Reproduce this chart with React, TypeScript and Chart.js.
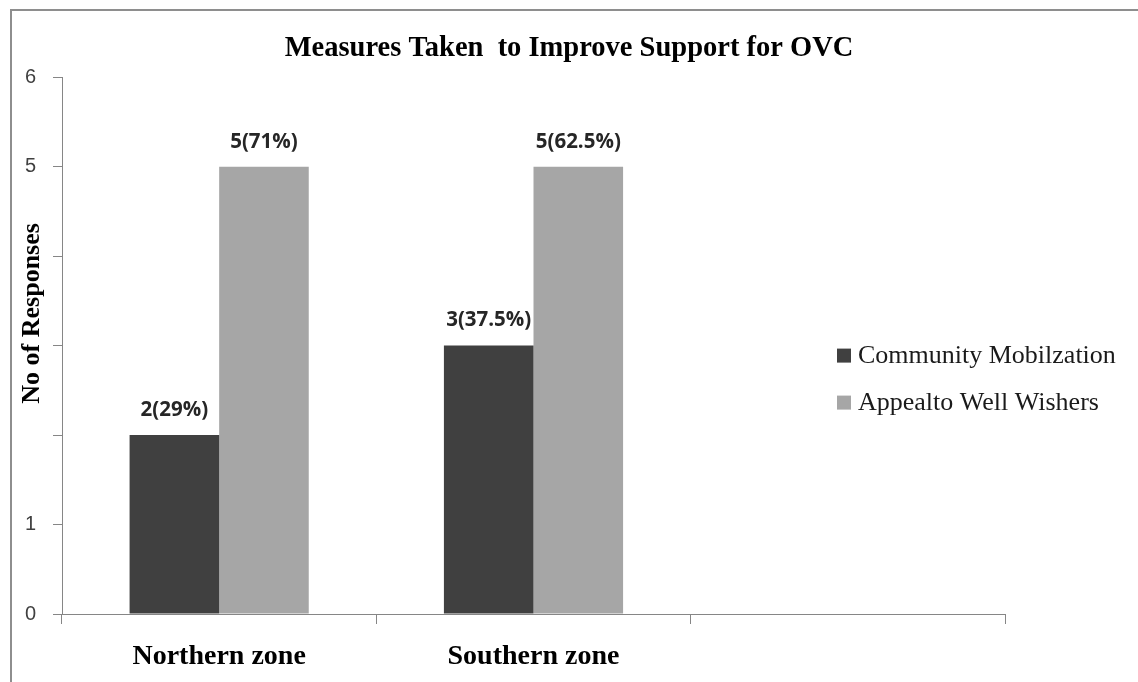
import React, { useEffect, useRef } from "react";
import { Chart, registerables } from "chart.js";

Chart.register(...registerables);

const chartTitle = "Measures Taken  to Improve Support for OVC";
const yAxisTitle = "No of Responses";
const categories = ["Northern zone", "Southern zone", ""];
const seriesNames = ["Community Mobilzation", "Appealto Well Wishers"];
const communityMobilization = [2, 3, null];
const appealWellWishers = [5, 5, null];
const communityLabels = ["2(29%)", "3(37.5%)", ""];
const appealLabels = ["5(71%)", "5(62.5%)", ""];
const yTickLabels = ["0", "1", "", "", "", "5", "6"];
const seriesColors = ["#404040", "#a6a6a6"];

const AXIS_COLOR = "#868686";

const decorPlugin = {
  id: "decor",
  afterDatasetsDraw(chart: any) {
    const ctx = chart.ctx;
    const labelSets = [communityLabels, appealLabels];
    ctx.save();
    ctx.font = "bold 20.5px 'Open Sans'";
    ctx.fillStyle = "#262626";
    ctx.textAlign = "center";
    ctx.textBaseline = "middle";
    chart.data.datasets.forEach((ds: any, di: number) => {
      const meta = chart.getDatasetMeta(di);
      meta.data.forEach((bar: any, i: number) => {
        const txt = labelSets[di][i];
        if (!txt || ds.data[i] == null) return;
        ctx.fillText(txt, bar.x, bar.y - 25);
      });
    });
    ctx.restore();
  },
  afterDraw(chart: any) {
    const ctx = chart.ctx;
    const area = chart.chartArea;
    ctx.save();
    // y-axis title
    ctx.translate(area.left - 30, area.top + (area.bottom - area.top) * 0.44);
    ctx.rotate(-Math.PI / 2);
    ctx.font = "bold 26px 'Liberation Serif'";
    ctx.fillStyle = "#000";
    ctx.textAlign = "center";
    ctx.textBaseline = "middle";
    ctx.fillText(yAxisTitle, 0, 0);
    ctx.restore();

    // legend
    ctx.save();
    const lx = area.right - 168;
    const cy = (area.top + area.bottom) / 2;
    const rows = [cy + 10, cy + 57];
    chart.data.datasets.forEach((ds: any, di: number) => {
      const y = rows[di];
      ctx.fillStyle = ds.backgroundColor;
      ctx.fillRect(lx, y - 7, 14, 14);
      ctx.fillStyle = "#1a1a1a";
      ctx.font = "26px 'Liberation Serif'";
      ctx.textAlign = "left";
      ctx.textBaseline = "middle";
      ctx.fillText(ds.label, lx + 21, y + 1);
    });
    ctx.restore();
  },
};

export default function App() {
  const ref = useRef<HTMLCanvasElement>(null);
  useEffect(() => {
    if (!ref.current) return;
    const chart = new Chart(ref.current, {
      type: "bar",
      data: {
        labels: categories,
        datasets: [
          {
            label: seriesNames[0],
            data: communityMobilization,
            backgroundColor: seriesColors[0],
            categoryPercentage: 0.57,
            barPercentage: 1.0,
          },
          {
            label: seriesNames[1],
            data: appealWellWishers,
            backgroundColor: seriesColors[1],
            categoryPercentage: 0.57,
            barPercentage: 1.0,
          },
        ],
      },
      options: {
        responsive: false,
        animation: false,
        layout: { padding: 0 },
        plugins: {
          legend: { display: false },
          tooltip: { enabled: false },
          title: {
            display: true,
            text: chartTitle,
            color: "#000",
            font: { family: "'Liberation Serif'", size: 28.5, weight: "bold" },
            padding: { top: 32, bottom: 11 },
          },
        },
        scales: {
          x: {
            offset: true,
            grid: {
              offset: true,
              drawOnChartArea: false,
              drawTicks: true,
              tickLength: 10,
              color: AXIS_COLOR,
            },
            border: { display: true, color: AXIS_COLOR, width: 1 },
            ticks: {
              color: "#000",
              padding: 16,
              maxRotation: 0,
              font: { family: "'Liberation Serif'", size: 28, weight: "bold" },
            },
            afterFit: (s: any) => {
              s.height = 68;
            },
          },
          y: {
            min: 0,
            max: 6,
            grid: {
              drawOnChartArea: false,
              drawTicks: true,
              tickLength: 9,
              color: AXIS_COLOR,
            },
            border: { display: true, color: AXIS_COLOR, width: 1 },
            ticks: {
              stepSize: 1,
              padding: 17,
              color: "#404040",
              font: { family: "'Liberation Sans'", size: 20 },
              callback: (_v: any, i: number) => yTickLabels[i],
            },
            afterFit: (s: any) => {
              s.width = 62;
            },
          },
          spacer: {
            position: "right",
            display: true,
            grid: { display: false },
            border: { display: false },
            ticks: { display: false },
            afterFit: (s: any) => {
              s.width = 133;
            },
          },
        },
      },
      plugins: [decorPlugin],
    } as any);
    return () => chart.destroy();
  }, []);

  return (
    <div style={{ position: "fixed", left: 0, top: 0, width: 1138, height: 682, background: "#fff" }}>
      <div
        style={{
          position: "absolute",
          left: 10,
          top: 9,
          right: 0,
          bottom: 0,
          borderLeft: "2px solid #8e8e8e",
          borderTop: "2px solid #8e8e8e",
        }}
      />
      <canvas ref={ref} width={1138} height={682} style={{ position: "absolute", left: 0, top: 0 }} />
    </div>
  );
}
